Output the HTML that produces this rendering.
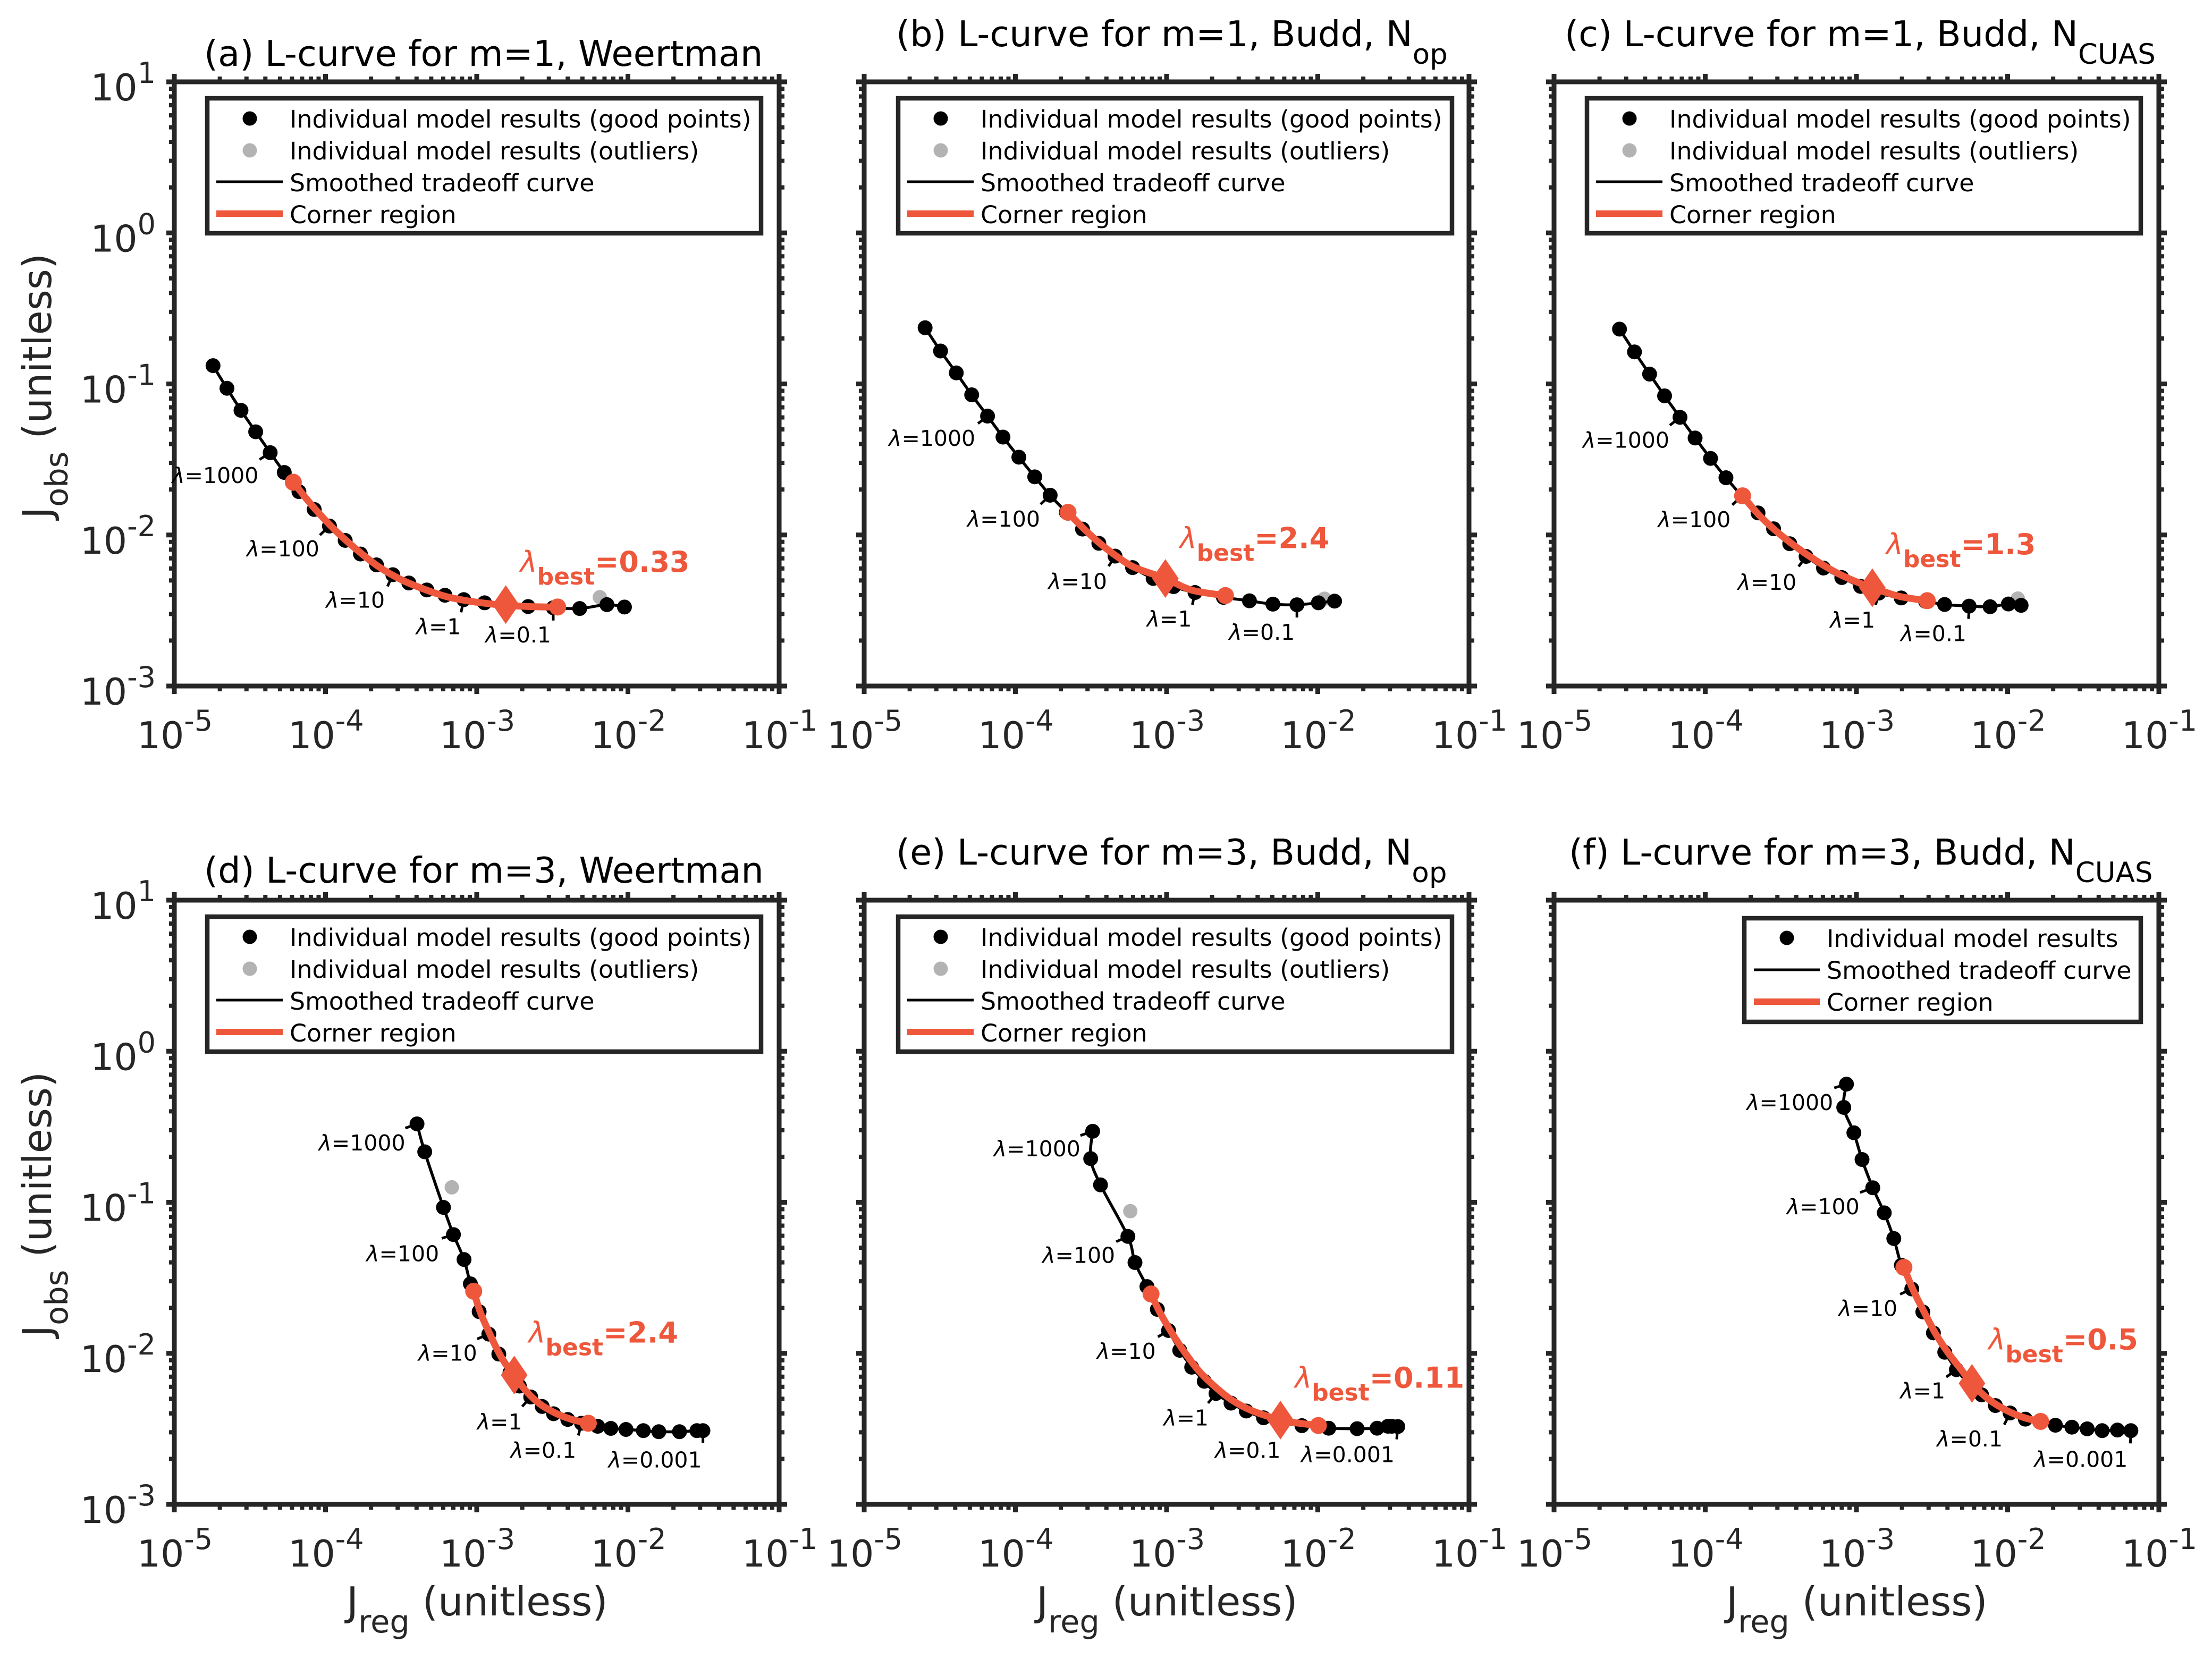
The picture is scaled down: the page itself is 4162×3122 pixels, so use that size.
<!DOCTYPE html>
<html lang="en">
<head>
<meta charset="utf-8">
<title>L-curves</title>
<style>
html,body{margin:0;padding:0;background:#fff}
svg{display:block}
text{font-family:"DejaVu Sans","Liberation Sans",sans-serif}
.title{font-size:67px;fill:#000}
.title .sub{font-size:53px}
.axis-title{font-size:75px;fill:#262626}
.axis-title .sub{font-size:59px}
.leg{font-size:45.83px;fill:#000}
.tick-label{font-size:69.5px;fill:#262626}
.tick-label .sup{font-size:54px}
.lam{font-size:41px;fill:#000}
.best{font-size:54px;fill:#ee573b;font-weight:bold}
.best .l{font-weight:normal}
.best .sub{font-size:44px}
</style>
</head>
<body>
<svg id="fig" xmlns="http://www.w3.org/2000/svg" width="4162" height="3122" viewBox="0 0 4162 3122">
<rect width="4162" height="3122" fill="#fff"/>

<g id="plot-a"></g>
<g id="plot-b"></g>
<g id="plot-c"></g>
<g id="plot-d"></g>
<g id="plot-e"></g>
<g id="plot-f"></g>

<!-- titles -->
<text class="title" x="384" y="124">(a) L-curve for m=1, Weertman</text>
<text class="title" x="1686" y="87">(b) L-curve for m=1, Budd, N<tspan class="sub" dy="33">op</tspan></text>
<text class="title" x="2944" y="87">(c) L-curve for m=1, Budd, N<tspan class="sub" dy="33">CUAS</tspan></text>
<text class="title" x="384" y="1661">(d) L-curve for m=3, Weertman</text>
<text class="title" x="1686" y="1627">(e) L-curve for m=3, Budd, N<tspan class="sub" dy="33">op</tspan></text>
<text class="title" x="2952" y="1627">(f) L-curve for m=3, Budd, N<tspan class="sub" dy="33">CUAS</tspan></text>

<!-- axis titles -->
<text class="axis-title" transform="translate(96,976) rotate(-90)">J<tspan class="sub" dy="31">obs</tspan><tspan dy="-31"> (unitless)</tspan></text>
<text class="axis-title" transform="translate(96,2516) rotate(-90)">J<tspan class="sub" dy="31">obs</tspan><tspan dy="-31"> (unitless)</tspan></text>
<text class="axis-title" x="652" y="3040">J<tspan class="sub" dy="32">reg</tspan><tspan dy="-32"> (unitless)</tspan></text>
<text class="axis-title" x="1950" y="3040">J<tspan class="sub" dy="32">reg</tspan><tspan dy="-32"> (unitless)</tspan></text>
<text class="axis-title" x="3248" y="3040">J<tspan class="sub" dy="32">reg</tspan><tspan dy="-32"> (unitless)</tspan></text>

<!-- legends -->
<g transform="translate(0,0)">
<rect x="390" y="185" width="1042" height="254" fill="#fff" stroke="#262626" stroke-width="8.5"/>
<circle cx="470" cy="223" r="13.5" fill="#000"/>
<circle cx="470" cy="283" r="13.5" fill="#b3b3b3"/>
<line x1="407" x2="532" y1="342" y2="342" stroke="#000" stroke-width="5"/>
<line x1="407" x2="532" y1="402" y2="402" stroke="#ee573b" stroke-width="12"/>
<text class="leg" x="545" y="240">Individual model results (good points)</text>
<text class="leg" x="545" y="300">Individual model results (outliers)</text>
<text class="leg" x="545" y="360">Smoothed tradeoff curve</text>
<text class="leg" x="545" y="420">Corner region</text>
</g>
<g transform="translate(1300,0)">
<rect x="390" y="185" width="1042" height="254" fill="#fff" stroke="#262626" stroke-width="8.5"/>
<circle cx="470" cy="223" r="13.5" fill="#000"/>
<circle cx="470" cy="283" r="13.5" fill="#b3b3b3"/>
<line x1="407" x2="532" y1="342" y2="342" stroke="#000" stroke-width="5"/>
<line x1="407" x2="532" y1="402" y2="402" stroke="#ee573b" stroke-width="12"/>
<text class="leg" x="545" y="240">Individual model results (good points)</text>
<text class="leg" x="545" y="300">Individual model results (outliers)</text>
<text class="leg" x="545" y="360">Smoothed tradeoff curve</text>
<text class="leg" x="545" y="420">Corner region</text>
</g>
<g transform="translate(2596,0)">
<rect x="390" y="185" width="1042" height="254" fill="#fff" stroke="#262626" stroke-width="8.5"/>
<circle cx="470" cy="223" r="13.5" fill="#000"/>
<circle cx="470" cy="283" r="13.5" fill="#b3b3b3"/>
<line x1="407" x2="532" y1="342" y2="342" stroke="#000" stroke-width="5"/>
<line x1="407" x2="532" y1="402" y2="402" stroke="#ee573b" stroke-width="12"/>
<text class="leg" x="545" y="240">Individual model results (good points)</text>
<text class="leg" x="545" y="300">Individual model results (outliers)</text>
<text class="leg" x="545" y="360">Smoothed tradeoff curve</text>
<text class="leg" x="545" y="420">Corner region</text>
</g>
<g transform="translate(0,1540)">
<rect x="390" y="185" width="1042" height="254" fill="#fff" stroke="#262626" stroke-width="8.5"/>
<circle cx="470" cy="223" r="13.5" fill="#000"/>
<circle cx="470" cy="283" r="13.5" fill="#b3b3b3"/>
<line x1="407" x2="532" y1="342" y2="342" stroke="#000" stroke-width="5"/>
<line x1="407" x2="532" y1="402" y2="402" stroke="#ee573b" stroke-width="12"/>
<text class="leg" x="545" y="240">Individual model results (good points)</text>
<text class="leg" x="545" y="300">Individual model results (outliers)</text>
<text class="leg" x="545" y="360">Smoothed tradeoff curve</text>
<text class="leg" x="545" y="420">Corner region</text>
</g>
<g transform="translate(1300,1540)">
<rect x="390" y="185" width="1042" height="254" fill="#fff" stroke="#262626" stroke-width="8.5"/>
<circle cx="470" cy="223" r="13.5" fill="#000"/>
<circle cx="470" cy="283" r="13.5" fill="#b3b3b3"/>
<line x1="407" x2="532" y1="342" y2="342" stroke="#000" stroke-width="5"/>
<line x1="407" x2="532" y1="402" y2="402" stroke="#ee573b" stroke-width="12"/>
<text class="leg" x="545" y="240">Individual model results (good points)</text>
<text class="leg" x="545" y="300">Individual model results (outliers)</text>
<text class="leg" x="545" y="360">Smoothed tradeoff curve</text>
<text class="leg" x="545" y="420">Corner region</text>
</g>
<g>
<rect x="3282" y="1728" width="746" height="195" fill="#fff" stroke="#262626" stroke-width="8.5"/>
<circle cx="3362" cy="1765" r="13.5" fill="#000"/>
<line x1="3300" x2="3424" y1="1825" y2="1825" stroke="#000" stroke-width="5"/>
<line x1="3300" x2="3424" y1="1885" y2="1885" stroke="#ee573b" stroke-width="12"/>
<text class="leg" x="3437" y="1782">Individual model results</text>
<text class="leg" x="3437" y="1842">Smoothed tradeoff curve</text>
<text class="leg" x="3437" y="1902">Corner region</text>
</g>
</svg>

<script>
// ---- axis tick values (log10 exponents) ----
const xTickExponents = [-5, -4, -3, -2, -1];
const yTickExponents = [1, 0, -1, -2, -3];
const minorMultipliers = [2, 3, 4, 5, 6, 7, 8, 9];

// ---- panel (a) values, log10 of J ----
const aLogJreg = [-4.744,-4.652,-4.559,-4.462,-4.366,-4.273,-4.176,-4.075,-3.974,-3.870,-3.769,-3.663,-3.555,-3.449,-3.330,-3.210,-3.086,-2.948,-2.808,-2.660,-2.494,-2.319,-2.139,-2.023];
const aLogJobs = [-0.879,-1.029,-1.175,-1.317,-1.455,-1.586,-1.713,-1.831,-1.941,-2.036,-2.126,-2.198,-2.263,-2.318,-2.364,-2.399,-2.428,-2.449,-2.461,-2.474,-2.482,-2.487,-2.461,-2.477];
const aOutlierJreg = [-2.186];
const aOutlierJobs = [-2.412];
const aCornerJreg = [-4.213,-4.085,-3.937,-3.789,-3.641,-3.493,-3.345,-3.197,-3.049,-2.901,-2.808,-2.655,-2.465];
const aCornerJobs = [-1.651,-1.810,-1.968,-2.101,-2.215,-2.299,-2.360,-2.409,-2.438,-2.457,-2.465,-2.474,-2.477];
const aBestPoint = [-2.808, -2.461];
const aBestValue = "=0.33";
const aLambdaIndex = [4, 8, 12, 16, 20];
const aLambdaText = ["λ=1000", "λ=100", "λ=10", "λ=1", "λ=0.1"];

// ---- panel (b) ----
const bLogJreg = [-4.597,-4.495,-4.391,-4.289,-4.184,-4.082,-3.977,-3.872,-3.770,-3.663,-3.556,-3.448,-3.341,-3.225,-3.089,-2.954,-2.812,-2.624,-2.452,-2.297,-2.138,-1.996,-1.889];
const bLogJobs = [-0.628,-0.782,-0.927,-1.072,-1.213,-1.352,-1.485,-1.615,-1.737,-1.850,-1.961,-2.055,-2.140,-2.216,-2.288,-2.342,-2.381,-2.413,-2.436,-2.458,-2.462,-2.449,-2.438];
const bOutlierJreg = [-1.956];
const bOutlierJobs = [-2.422];
const bCornerJreg = [-3.652,-3.558,-3.451,-3.330,-3.209,-3.008,-2.834,-2.611];
const bCornerJobs = [-1.850,-1.948,-2.047,-2.141,-2.216,-2.288,-2.365,-2.401];
const bBestPoint = [-3.008, -2.288];
const bBestValue = "=2.4";
const bLambdaIndex = [4, 8, 12, 16, 20];
const bLambdaText = ["λ=1000", "λ=100", "λ=10", "λ=1", "λ=0.1"];

// ---- panel (c) ----
const cLogJreg = [-4.567,-4.468,-4.368,-4.269,-4.167,-4.067,-3.965,-3.863,-3.758,-3.651,-3.548,-3.441,-3.333,-3.218,-3.097,-2.973,-2.852,-2.704,-2.543,-2.417,-2.255,-2.116,-1.995,-1.911];
const cLogJobs = [-0.637,-0.788,-0.935,-1.079,-1.221,-1.358,-1.493,-1.621,-1.741,-1.854,-1.959,-2.058,-2.142,-2.219,-2.282,-2.340,-2.385,-2.417,-2.439,-2.460,-2.471,-2.475,-2.457,-2.466];
const cOutlierJreg = [-1.933];
const cOutlierJobs = [-2.421];
const cCornerJreg = [-3.753,-3.645,-3.524,-3.403,-3.282,-3.148,-3.027,-2.895,-2.718,-2.532];
const cCornerJobs = [-1.741,-1.867,-1.980,-2.076,-2.160,-2.241,-2.299,-2.349,-2.406,-2.435];
const cBestPoint = [-2.895, -2.349];
const cBestValue = "=1.3";
const cLambdaIndex = [4, 8, 12, 16, 20];
const cLambdaText = ["λ=1000", "λ=100", "λ=10", "λ=1", "λ=0.1"];

// ---- panel (d) ----
const dLogJreg = [-3.395,-3.344,-3.220,-3.154,-3.084,-3.042,-2.984,-2.920,-2.854,-2.780,-2.718,-2.643,-2.567,-2.492,-2.398,-2.307,-2.200,-2.113,-2.013,-1.898,-1.796,-1.659,-1.544,-1.504];
const dLogJobs = [-0.481,-0.666,-1.034,-1.214,-1.379,-1.540,-1.724,-1.873,-2.005,-2.127,-2.217,-2.289,-2.352,-2.400,-2.438,-2.463,-2.483,-2.497,-2.504,-2.512,-2.519,-2.519,-2.512,-2.512];
const dOutlierJreg = [-3.165];
const dOutlierJobs = [-0.901];
const dCornerJreg = [-3.020,-2.978,-2.924,-2.860,-2.807,-2.752,-2.679,-2.584,-2.477,-2.371,-2.262];
const dCornerJobs = [-1.589,-1.724,-1.849,-1.984,-2.074,-2.144,-2.244,-2.334,-2.397,-2.438,-2.463];
const dBestPoint = [-2.752, -2.144];
const dBestValue = "=2.4";
const dLambdaIndex = [0, 3, 7, 11, 15, 23];
const dLambdaText = ["λ=1000", "λ=100", "λ=10", "λ=1", "λ=0.1", "λ=0.001"];

// ---- panel (e) ----
const eLogJreg = [-3.489,-3.502,-3.437,-3.256,-3.209,-3.130,-3.061,-2.987,-2.913,-2.834,-2.751,-2.673,-2.574,-2.473,-2.359,-2.235,-2.105,-1.928,-1.740,-1.608,-1.536,-1.511,-1.471];
const eLogJobs = [-0.530,-0.711,-0.885,-1.226,-1.399,-1.558,-1.709,-1.849,-1.980,-2.092,-2.185,-2.266,-2.330,-2.382,-2.427,-2.460,-2.479,-2.496,-2.499,-2.496,-2.483,-2.483,-2.485];
const eOutlierJreg = [-3.240];
const eOutlierJobs = [-1.059];
const eCornerJreg = [-3.103,-3.043,-2.964,-2.874,-2.785,-2.684,-2.572,-2.437,-2.247,-2.123,-1.996];
const eCornerJobs = [-1.607,-1.732,-1.867,-2.002,-2.118,-2.217,-2.307,-2.379,-2.442,-2.463,-2.478];
const eBestPoint = [-2.247, -2.442];
const eBestValue = "=0.11";
const eLambdaIndex = [0, 3, 7, 11, 15, 22];
const eLambdaText = ["λ=1000", "λ=100", "λ=10", "λ=1", "λ=0.1", "λ=0.001"];

// ---- panel (f) ----
const fLogJreg = [-3.066,-3.084,-3.017,-2.963,-2.892,-2.816,-2.753,-2.703,-2.634,-2.561,-2.491,-2.416,-2.339,-2.255,-2.172,-2.081,-1.984,-1.883,-1.782,-1.684,-1.575,-1.474,-1.375,-1.274,-1.185];
const fLogJobs = [-0.218,-0.372,-0.540,-0.717,-0.904,-1.070,-1.240,-1.417,-1.574,-1.726,-1.865,-1.993,-2.108,-2.203,-2.275,-2.346,-2.395,-2.436,-2.451,-2.476,-2.489,-2.500,-2.512,-2.508,-2.512];
const fOutlierJreg = [];
const fOutlierJobs = [];
const fCornerJreg = [-2.686,-2.628,-2.557,-2.477,-2.396,-2.315,-2.236,-2.134,-2.013,-1.891,-1.782];
const fCornerJobs = [-1.431,-1.574,-1.717,-1.869,-1.993,-2.098,-2.199,-2.298,-2.375,-2.426,-2.451];
const fBestPoint = [-2.236, -2.199];
const fBestValue = "=0.5";
const fLambdaIndex = [0, 4, 8, 12, 16, 24];
const fLambdaText = ["λ=1000", "λ=100", "λ=10", "λ=1", "λ=0.1", "λ=0.001"];

// ---- annotation layout: pixel offsets from the annotated point [tickDx,tickDy,textDx,textDy] ----
const aAnnotationLayout = [[-20,13,-22,57],[-18,17,-19,57],[-10,22,-15,62],[-5,24,-5,65],[0,24,-4,65]];
const bAnnotationLayout = [[-18,14,-23,56],[-18,17,-19,59],[-12,19,-15,62],[-5,23,-6,64],[0,24,-4,66]];
const cAnnotationLayout = [[-19,15,-20,57],[-18,17,-21,59],[-14,19,-18,63],[-6,22,-7,65],[-1,24,-5,66]];
const dAnnotationLayout = [[-22,8,-22,50],[-22,7,-27,50],[-22,9,-22,50],[-16,18,-16,61],[-6,23,-10,65],[0,23,-2,69]];
const eAnnotationLayout = [[-23,8,-23,47],[-22,10,-24,50],[-20,12,-24,53],[-15,18,-14,60],[-3,23,-3,66],[-2,24,-6,67]];
const fAnnotationLayout = [[-23,7,-25,49],[-24,9,-25,50],[-22,10,-27,51],[-19,14,-21,54],[-11,22,-14,63],[-1,24,-6,68]];

const SVG_NS = "http://www.w3.org/2000/svg";
const INK = "#262626", ORANGE = "#ee573b", GREY = "#b3b3b3";
const AX_W = 1138, AX_H = 1137;
const X_MIN = -5, X_MAX = -1, Y_MIN = -3, Y_MAX = 1;

const panels = [
  {key:"a", left:328,  top:154,  yLabels:true,  x:aLogJreg, y:aLogJobs, ox:aOutlierJreg, oy:aOutlierJobs, cx:aCornerJreg, cy:aCornerJobs, best:aBestPoint, bestValue:aBestValue, li:aLambdaIndex, lt:aLambdaText, layout:aAnnotationLayout, bestOffset:[27,-62]},
  {key:"b", left:1626, top:154,  yLabels:false, x:bLogJreg, y:bLogJobs, ox:bOutlierJreg, oy:bOutlierJobs, cx:bCornerJreg, cy:bCornerJobs, best:bBestPoint, bestValue:bBestValue, li:bLambdaIndex, lt:bLambdaText, layout:bAnnotationLayout, bestOffset:[27,-57]},
  {key:"c", left:2924, top:154,  yLabels:false, x:cLogJreg, y:cLogJobs, ox:cOutlierJreg, oy:cOutlierJobs, cx:cCornerJreg, cy:cCornerJobs, best:cBestPoint, bestValue:cBestValue, li:cLambdaIndex, lt:cLambdaText, layout:cAnnotationLayout, bestOffset:[26,-63]},
  {key:"d", left:328,  top:1694, yLabels:true,  x:dLogJreg, y:dLogJobs, ox:dOutlierJreg, oy:dOutlierJobs, cx:dCornerJreg, cy:dCornerJobs, best:dBestPoint, bestValue:dBestValue, li:dLambdaIndex, lt:dLambdaText, layout:dAnnotationLayout, bestOffset:[27,-61]},
  {key:"e", left:1626, top:1694, yLabels:false, x:eLogJreg, y:eLogJobs, ox:eOutlierJreg, oy:eOutlierJobs, cx:eCornerJreg, cy:eCornerJobs, best:eBestPoint, bestValue:eBestValue, li:eLambdaIndex, lt:eLambdaText, layout:eAnnotationLayout, bestOffset:[27,-61]},
  {key:"f", left:2924, top:1694, yLabels:false, x:fLogJreg, y:fLogJobs, ox:fOutlierJreg, oy:fOutlierJobs, cx:fCornerJreg, cy:fCornerJobs, best:fBestPoint, bestValue:fBestValue, li:fLambdaIndex, lt:fLambdaText, layout:fAnnotationLayout, bestOffset:[31,-64]}
];

function make(parent, tag, geometry) {
  const el = document.createElementNS(SVG_NS, tag);
  for (const k in geometry) el.setAttribute(k, geometry[k]);
  parent.appendChild(el);
  return el;
}

function smoothPath(pts) {
  let d = "M" + pts[0][0].toFixed(2) + " " + pts[0][1].toFixed(2);
  for (let i = 0; i < pts.length - 1; i++) {
    const p0 = pts[Math.max(i - 1, 0)], p1 = pts[i], p2 = pts[i + 1], p3 = pts[Math.min(i + 2, pts.length - 1)];
    const c1x = p1[0] + (p2[0] - p0[0]) / 6, c1y = p1[1] + (p2[1] - p0[1]) / 6;
    const c2x = p2[0] - (p3[0] - p1[0]) / 6, c2y = p2[1] - (p3[1] - p1[1]) / 6;
    d += "C" + c1x.toFixed(2) + " " + c1y.toFixed(2) + " " + c2x.toFixed(2) + " " + c2y.toFixed(2) + " " + p2[0].toFixed(2) + " " + p2[1].toFixed(2);
  }
  return d;
}

function drawPanel(p) {
  const root = document.getElementById("plot-" + p.key);
  const xAxis = v => p.left + (v - X_MIN) / (X_MAX - X_MIN) * AX_W;
  const yAxis = v => p.top + (Y_MAX - v) / (Y_MAX - Y_MIN) * AX_H;
  const right = p.left + AX_W, bottom = p.top + AX_H;

  // minor ticks on all four sides
  xTickExponents.slice(0, -1).forEach(e => {
    minorMultipliers.forEach(m => {
      const x = xAxis(e + Math.log10(m));
      const t1 = make(root, "line", {x1:x, x2:x, y1:bottom, y2:bottom + 10, stroke:INK, "stroke-width":8});
      
      
      const t2 = make(root, "line", {x1:x, x2:x, y1:p.top, y2:p.top - 10, stroke:INK, "stroke-width":8});
      
      
    });
  });
  yTickExponents.slice(1).forEach(e => {
    minorMultipliers.forEach(m => {
      const y = yAxis(e + Math.log10(m));
      const t1 = make(root, "line", {x1:p.left, x2:p.left - 10, y1:y, y2:y, stroke:INK, "stroke-width":8});
      
      
      const t2 = make(root, "line", {x1:right, x2:right + 10, y1:y, y2:y, stroke:INK, "stroke-width":8});
      
      
    });
  });

  // major ticks and labels
  xTickExponents.forEach(e => {
    const x = xAxis(e);
    const t1 = make(root, "line", {x1:x, x2:x, y1:bottom, y2:bottom + 15, stroke:INK, "stroke-width":9});
    
    
    const t2 = make(root, "line", {x1:x, x2:x, y1:p.top, y2:p.top - 15, stroke:INK, "stroke-width":9});
    
    
    const lab = make(root, "text", {x:x + 1, y:bottom + 117, "text-anchor":"middle", class:"tick-label"});
    
    
    lab.appendChild(document.createTextNode("10"));
    const sup = make(lab, "tspan", {class:"sup", dy:-33});
    sup.textContent = String(e);
  });
  yTickExponents.forEach(e => {
    const y = yAxis(e);
    const t1 = make(root, "line", {x1:p.left, x2:p.left - 15, y1:y, y2:y, stroke:INK, "stroke-width":9});
    
    
    const t2 = make(root, "line", {x1:right, x2:right + 15, y1:y, y2:y, stroke:INK, "stroke-width":9});
    
    
    if (p.yLabels) {
      const lab = make(root, "text", {x:293, y:y + 35, "text-anchor":"end", class:"tick-label"});
      
      
      lab.appendChild(document.createTextNode("10"));
      const sup = make(lab, "tspan", {class:"sup", dy:-33});
      sup.textContent = String(e);
    }
  });

  // spines
  const frame = make(root, "rect", {x:p.left, y:p.top, width:AX_W, height:AX_H, fill:"none", stroke:INK, "stroke-width":9});
  
  

  const pts = p.x.map((v, i) => [xAxis(v), yAxis(p.y[i])]);

  // outliers
  p.ox.forEach((v, i) => {
    const o = make(root, "circle", {cx:xAxis(v), cy:yAxis(p.oy[i]), r:13.5, fill:GREY});
    
    
  });

  // lambda annotation ticks
  p.li.forEach((idx, i) => {
    const a = p.layout[i];
    const tick = make(root, "line", {x1:pts[idx][0], y1:pts[idx][1], x2:pts[idx][0] + a[0], y2:pts[idx][1] + a[1], stroke:"#000", "stroke-width":5});
    
    
  });

  // smoothed curve
  const curve = make(root, "path", {d:smoothPath(pts), fill:"none", stroke:"#000", "stroke-width":5.5, "stroke-linejoin":"round"});
  
  

  // good points
  pts.forEach(q => {
    const dot = make(root, "circle", {cx:q[0], cy:q[1], r:14, fill:"#000"});
    
    
  });

  // corner region
  const cornerPts = p.cx.map((v, i) => [xAxis(v), yAxis(p.cy[i])]);
  const corner = make(root, "path", {d:smoothPath(cornerPts), fill:"none", stroke:ORANGE, "stroke-width":13, "stroke-linejoin":"round"});
  
  
  [cornerPts[0], cornerPts[cornerPts.length - 1]].forEach(q => {
    const end = make(root, "circle", {cx:q[0], cy:q[1], r:16, fill:ORANGE});
    
    
  });

  // best-lambda diamond
  const bx = xAxis(p.best[0]), by = yAxis(p.best[1]);
  const diamond = make(root, "path", {d:"M" + bx + " " + (by - 36.5) + "L" + (bx + 25) + " " + by + "L" + bx + " " + (by + 36.5) + "L" + (bx - 25) + " " + by + "Z", fill:ORANGE});
  
  

  // lambda labels
  p.li.forEach((idx, i) => {
    const a = p.layout[i];
    const lab = make(root, "text", {x:pts[idx][0] + a[2], y:pts[idx][1] + a[3], "text-anchor":"end", class:"lam"});
    
    
    const sym = make(lab, "tspan", {"font-style":"italic"});
    sym.textContent = p.lt[i].charAt(0);
    lab.appendChild(document.createTextNode(p.lt[i].slice(1)));
  });

  // best-lambda label
  const best = make(root, "text", {x:bx + p.bestOffset[0], y:by + p.bestOffset[1], class:"best"});
  
  
  const lsym = make(best, "tspan", {class:"l", "font-style":"italic"});
  lsym.textContent = "λ";
  const sub = make(best, "tspan", {class:"sub", dy:24});
  sub.textContent = "best";
  const val = make(best, "tspan", {dy:-24});
  val.textContent = p.bestValue;
}

panels.forEach(drawPanel);
</script>
</body>
</html>
